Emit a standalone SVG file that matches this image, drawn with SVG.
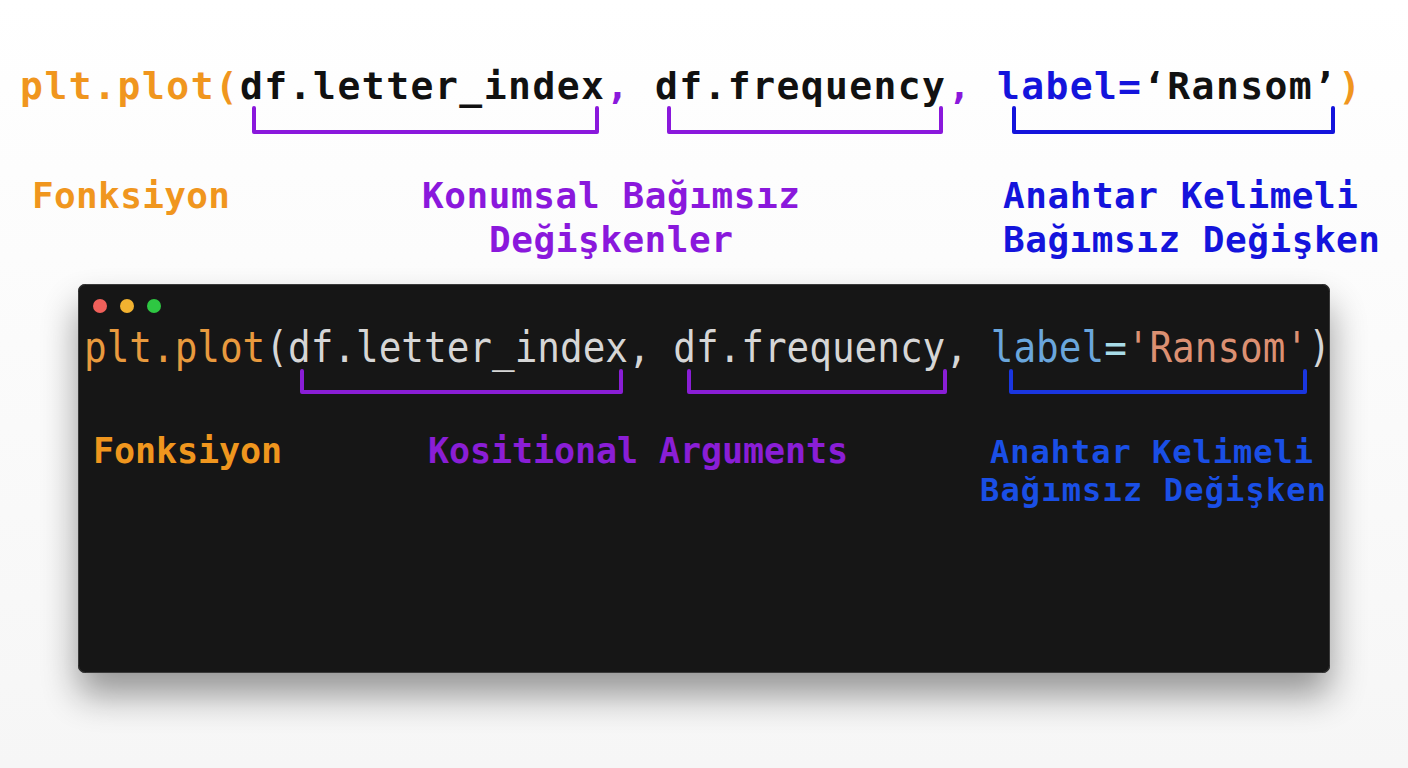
<svg xmlns="http://www.w3.org/2000/svg" width="1408" height="768" viewBox="0 0 1408 768">
  <defs>
    <filter id="shadow" x="-10%" y="-20%" width="120%" height="170%">
      <feGaussianBlur in="SourceAlpha" stdDeviation="18"/>
      <feOffset dx="0" dy="22" result="b"/>
      <feComponentTransfer><feFuncA type="linear" slope="0.4"/></feComponentTransfer>
      <feMerge><feMergeNode/><feMergeNode in="SourceGraphic"/></feMerge>
    </filter>
    <linearGradient id="bg" x1="0" y1="0" x2="0" y2="1">
      <stop offset="0" stop-color="#ffffff"/>
      <stop offset="1" stop-color="#f6f6f6"/>
    </linearGradient>
  </defs>
  <style>
    .mono { font-family: "DejaVu Sans Mono", "Liberation Mono", monospace; }
    .bold { font-weight: bold; }
    .tc { font-size: 38px; font-weight: bold; }
    .ic { font-size: 37.65px; }
    .br { fill: none; stroke-width: 4; stroke-linecap: round; stroke-linejoin: round; }
    .purple { stroke: #8a18dc; }
    .blue { stroke: #1414dc; }
    .ipurple { stroke: #8a1ed6; }
    .iblue { stroke: #1a36e0; }
  </style>
  <rect x="0" y="0" width="1408" height="768" fill="url(#bg)"/>

  <!-- top code line (24.4 px per char from x=20) -->
  <g id="top-code" class="mono">
    <text class="tc" x="20" y="99" fill="#f0961e" textLength="218" lengthAdjust="spacing">plt.plot(</text>
    <text class="tc" x="240" y="99" fill="#111111" textLength="364" lengthAdjust="spacing">df.letter_index</text>
    <text class="tc" x="606" y="99" fill="#8a18dc">,</text>
    <text class="tc" x="655" y="99" fill="#111111" textLength="290" lengthAdjust="spacing">df.frequency</text>
    <text class="tc" x="948" y="99" fill="#8a18dc">,</text>
    <text class="tc" x="997" y="99" fill="#1414dc" textLength="144" lengthAdjust="spacing">label=</text>
    <text class="tc" x="1143" y="99" fill="#111111" textLength="193" lengthAdjust="spacing">‘Ransom’</text>
    <text class="tc" x="1338" y="99" fill="#f0961e">)</text>
  </g>

  <g id="top-labels">
    <g id="top-fonksiyon"><text class="mono bold" x="32" y="208" font-size="36" fill="#f0961e" textLength="198">Fonksiyon</text></g>
    <g id="top-positional">
      <text class="mono bold" x="422" y="208" font-size="36" fill="#8a18dc" textLength="378">Konumsal Bağımsız</text>
      <text class="mono bold" x="489" y="252" font-size="36" fill="#8a18dc" textLength="244">Değişkenler</text>
    </g>
    <g id="top-keyword">
      <text class="mono bold" x="1003" y="208" font-size="36" fill="#1414dc" textLength="355">Anahtar Kelimeli</text>
      <text class="mono bold" x="1003" y="252" font-size="36" fill="#1414dc" textLength="377">Bağımsız Değişken</text>
    </g>
  </g>

  <!-- terminal panel -->
  <g id="terminal">
    <rect x="78" y="284" width="1252" height="389" rx="7" fill="#161616" filter="url(#shadow)"/>
    <rect x="78.5" y="284.5" width="1251" height="388" rx="7" fill="none" stroke="#3a3a3a" stroke-width="1"/>
    <circle cx="100" cy="306" r="7" fill="#f0605a"/>
    <circle cx="127" cy="306" r="7" fill="#f2b230"/>
    <circle cx="154" cy="306" r="7" fill="#2ec742"/>
    <!-- inner code: 22.67 px per char from x=84, stretched vertically -->
    <g id="inner-code" class="mono" transform="translate(0,362) scale(1,1.14)">
      <text class="ic" x="84" y="0" fill="#e89a3e">plt.plot</text>
      <text class="ic" x="265.4" y="0" fill="#d6d6d6">(df.letter_index, df.frequency,</text>
      <text class="ic" x="990.8" y="0" fill="#6aa6dc">label</text>
      <text class="ic" x="1104.2" y="0" fill="#a8dce8">=</text>
      <text class="ic" x="1126.8" y="0" fill="#dc9072">'Ransom'</text>
      <text class="ic" x="1308.2" y="0" fill="#d6d6d6">)</text>
    </g>
    <g id="inner-fonksiyon"><text class="mono bold" x="93" y="463" font-size="35" fill="#f0961e" textLength="189">Fonksiyon</text></g>
    <g id="inner-positional"><text class="mono bold" x="428" y="463" font-size="35" fill="#8a1ed6" textLength="420">Kositional Arguments</text></g>
    <g id="inner-keyword">
      <text class="mono bold" x="990" y="463" font-size="32" fill="#1a4fe6" textLength="323">Anahtar Kelimeli</text>
      <text class="mono bold" x="980" y="501" font-size="32" fill="#1a4fe6" textLength="346">Bağımsız Değişken</text>
    </g>
  </g>

  <!-- brackets -->
  <g id="connectors">
    <path class="br purple" d="M254 108 V132 H597 V108"/>
    <path class="br purple" d="M669 108 V132 H941 V108"/>
    <path class="br blue" d="M1014 108 V132 H1333 V108"/>
    <path class="br ipurple" d="M302 371 V392 H621 V371"/>
    <path class="br ipurple" d="M689 371 V392 H945 V371"/>
    <path class="br iblue" d="M1011 371 V392 H1305 V371"/>
  </g>
</svg>
